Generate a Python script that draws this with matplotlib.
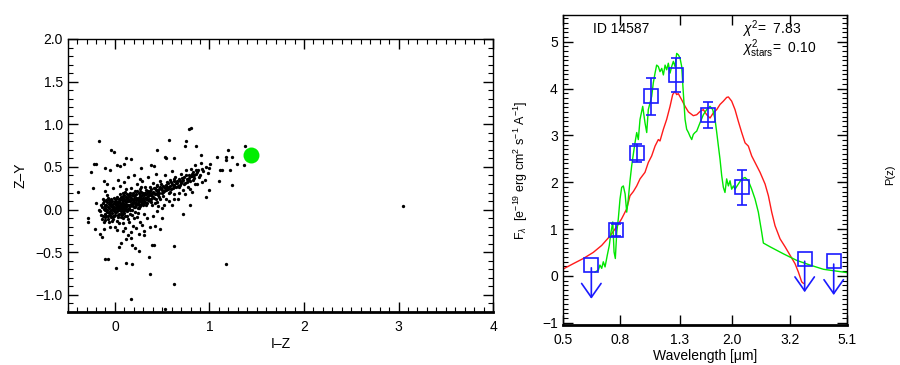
import numpy as np
import matplotlib
matplotlib.use("Agg")
import matplotlib.pyplot as plt
from matplotlib.ticker import MultipleLocator, FixedLocator, NullLocator, FuncFormatter

plt.rcParams['font.family'] = ['Liberation Sans', 'DejaVu Sans']
plt.rcParams['mathtext.fontset'] = 'custom'
plt.rcParams['mathtext.rm'] = 'Liberation Sans'
plt.rcParams['mathtext.it'] = 'Liberation Sans:italic'

# ---- left panel: colour-colour diagram (I-Z, Z-Y) ----
cloud = [
    (-0.16, -0.02), (-0.14, 0.03), (-0.13, -0.08), (-0.12, 0.01), (-0.11, -0.05), (-0.10, 0.06),
    (-0.10, -0.12), (-0.09, 0.00), (-0.08, -0.03), (-0.08, 0.09), (-0.07, -0.07), (-0.06, 0.02),
    (-0.06, -0.15), (-0.05, 0.05), (-0.05, -0.02), (-0.04, 0.12), (-0.04, -0.09), (-0.03, 0.01),
    (-0.03, -0.04), (-0.02, 0.07), (-0.02, -0.11), (-0.01, 0.03), (-0.01, -0.01), (0.00, 0.10),
    (0.00, -0.06), (0.01, 0.02), (0.01, -0.03), (0.02, 0.15), (0.02, 0.05), (0.02, -0.13),
    (0.03, 0.00), (0.03, 0.08), (0.04, -0.05), (0.04, 0.03), (0.05, 0.18), (0.05, -0.01),
    (0.06, 0.06), (0.06, -0.09), (0.07, 0.11), (0.07, 0.01), (0.08, -0.04), (0.08, 0.04),
    (0.09, 0.14), (0.09, -0.16), (0.10, 0.07), (0.10, 0.00), (0.11, 0.21), (0.11, -0.07),
    (0.12, 0.09), (0.12, 0.03), (0.13, -0.02), (0.13, 0.13), (0.14, 0.06), (0.14, -0.11),
    (0.15, 0.17), (0.15, 0.02), (0.16, 0.10), (0.16, -0.05), (0.17, 0.25), (0.17, 0.07),
    (0.18, 0.00), (0.18, 0.13), (0.19, -0.19), (0.19, 0.04), (0.20, 0.16), (0.20, 0.09),
    (0.21, -0.03), (0.21, 0.22), (0.22, 0.11), (0.22, 0.05), (0.23, 0.30), (0.23, -0.09),
    (0.24, 0.14), (0.24, 0.08), (0.25, 0.19), (0.25, 0.02), (0.26, 0.12), (0.27, -0.14),
    (0.27, 0.24), (0.28, 0.16), (0.28, 0.07), (0.29, 0.33), (0.30, 0.10), (0.30, 0.20),
    (0.31, -0.05), (0.32, 0.14), (0.32, 0.26), (0.33, 0.18), (0.34, 0.08), (0.35, 0.22),
    (0.35, 0.38), (0.36, 0.13), (0.37, -0.20), (0.37, 0.27), (0.38, 0.17), (0.39, 0.05),
    (0.40, 0.21), (0.40, 0.31), (0.41, 0.14), (0.42, 0.25), (0.43, 0.42), (0.44, 0.19),
    (0.45, 0.09), (0.45, 0.29), (0.46, 0.22), (0.47, 0.15), (0.48, 0.34), (0.49, 0.25),
    (0.50, 0.02), (0.50, 0.19), (0.51, 0.28), (0.52, 0.22), (0.53, 0.40), (0.54, 0.12),
    (0.55, 0.26), (0.56, 0.31), (0.57, 0.20), (0.58, 0.35), (0.59, 0.24), (0.60, 0.45),
    (0.61, 0.29), (0.62, 0.18), (0.63, 0.33), (0.64, 0.38), (0.65, 0.26), (0.66, 0.31),
    (0.67, 0.13), (0.68, 0.36), (0.69, 0.29), (0.70, 0.42), (0.71, 0.33), (0.72, 0.23),
    (0.73, 0.38), (0.74, 0.31), (0.75, 0.46), (0.76, 0.36), (0.77, 0.27), (0.78, 0.41),
    (0.79, 0.34), (0.80, 0.48), (0.81, 0.39), (0.82, 0.21), (0.83, 0.44), (0.84, 0.37),
    (0.85, 0.52), (0.86, 0.42), (0.87, 0.30), (0.88, 0.47), (0.90, 0.40), (0.91, 0.55),
    (0.93, 0.45), (0.95, 0.35), (0.96, 0.50), (0.98, 0.43),
    (-0.13, 0.08), (-0.12, -0.14), (-0.11, 0.04), (-0.09, -0.08), (-0.07, 0.03), (-0.07, 0.14),
    (-0.06, -0.04), (-0.05, 0.09), (-0.04, -0.01), (-0.03, 0.05), (-0.02, -0.07), (-0.01, 0.08),
    (0.00, 0.01), (0.00, -0.20), (0.01, 0.12), (0.02, -0.02), (0.03, 0.05), (0.04, 0.10),
    (0.04, -0.16), (0.05, 0.04), (0.06, -0.02), (0.07, 0.08), (0.08, 0.16), (0.09, 0.02),
    (0.09, -0.10), (0.10, 0.12), (0.11, 0.05), (0.11, -0.22), (0.12, 0.15), (0.13, 0.06),
    (0.14, 0.01), (0.15, 0.11), (0.15, -0.14), (0.16, 0.04), (0.17, 0.14), (0.17, -0.26),
    (0.18, 0.08), (0.19, 0.19), (0.20, 0.03), (0.20, -0.10), (0.21, 0.12), (0.22, 0.18),
    (0.23, 0.07), (0.24, -0.04), (0.25, 0.14), (0.26, 0.21), (0.26, 0.04), (0.27, 0.10),
    (0.28, 0.27), (0.29, 0.13), (0.30, 0.05), (0.31, 0.17), (0.32, 0.09), (0.33, 0.23),
    (0.34, -0.10), (0.34, 0.15), (0.36, 0.20), (0.37, 0.10), (0.38, 0.24), (0.39, 0.16),
    (0.41, 0.20), (0.42, 0.08), (0.43, 0.23), (0.44, 0.28), (0.46, 0.17), (0.47, 0.24),
    (0.48, 0.12), (0.49, 0.30), (0.51, 0.21), (0.52, 0.26), (0.54, 0.23), (0.55, 0.32),
    (0.57, 0.27), (0.58, 0.21), (0.60, 0.30), (0.62, 0.26), (0.63, 0.36), (0.65, 0.31),
    (0.67, 0.28), (0.69, 0.34), (0.71, 0.37), (0.73, 0.30), (0.75, 0.40), (0.77, 0.35),
    (0.80, 0.39), (0.83, 0.35), (0.86, 0.46), (0.89, 0.38),
    (-0.15, 0.05), (-0.14, -0.11), (-0.12, 0.10), (-0.10, 0.02), (-0.09, 0.11), (-0.08, -0.01),
    (-0.06, 0.07), (-0.05, -0.06), (-0.04, 0.04), (-0.03, 0.10), (-0.02, 0.00), (-0.01, -0.08),
    (0.01, 0.07), (0.02, 0.02), (0.03, -0.09), (0.04, 0.13), (0.05, 0.08), (0.06, 0.02),
    (0.07, -0.06), (0.08, 0.11), (0.10, 0.04), (0.11, 0.10), (0.12, -0.01), (0.13, 0.18),
    (0.14, 0.10), (0.16, 0.15), (0.18, 0.05), (0.19, 0.11), (0.21, 0.08), (0.22, 0.14),
    (0.24, 0.11), (0.25, 0.06), (0.27, 0.17), (0.29, 0.09), (0.31, 0.12), (0.33, 0.05),
    (0.35, 0.16), (0.38, 0.13), (-0.10, 0.22), (-0.02, 0.25), (0.05, 0.28), (0.10, 0.32),
    (0.14, 0.38), (0.03, 0.35), (-0.08, 0.30), (0.20, 0.40), (0.26, 0.36), (0.08, -0.25),
    (0.14, -0.30), (0.22, -0.22), (0.29, -0.18), (0.02, -0.24), (-0.05, -0.20), (0.12, -0.35),
    (0.18, -0.42), (0.25, -0.28), (0.31, -0.25), (0.40, -0.08), (0.44, -0.02), (0.52, 0.05),
    (0.57, 0.10), (0.46, 0.04), (0.62, 0.12), (0.68, 0.20), (0.74, 0.18), (0.79, 0.24),
    (0.85, 0.30), (0.92, 0.32),
    (-0.17, 0.00), (-0.15, -0.06), (-0.13, 0.13), (-0.11, -0.01), (-0.10, -0.09), (-0.09, 0.05),
    (-0.08, 0.17), (-0.07, -0.11), (-0.06, 0.11), (-0.04, 0.07), (-0.03, -0.13), (-0.02, 0.03),
    (-0.01, 0.14), (0.00, -0.03), (0.01, 0.05), (0.02, 0.09), (0.03, -0.06), (0.04, 0.01),
    (0.05, 0.12), (0.06, -0.05), (0.06, 0.15), (0.07, 0.05), (0.08, 0.00), (0.08, 0.20),
    (0.09, 0.08), (0.10, -0.04), (0.10, 0.17), (0.11, 0.01), (0.12, 0.06), (0.12, 0.24),
    (0.13, 0.10), (0.13, -0.08), (0.14, 0.15), (0.15, 0.06), (0.16, 0.20), (0.16, 0.00),
    (0.17, 0.11), (0.18, 0.17), (0.18, -0.06), (0.19, 0.08), (0.20, 0.13), (0.21, 0.03),
    (0.21, 0.17), (0.22, 0.08), (0.23, 0.12), (0.23, 0.22), (0.24, 0.02), (0.25, 0.10),
    (0.26, 0.16), (0.27, 0.06), (0.28, 0.12), (0.28, 0.21), (0.29, 0.17), (0.30, 0.14),
    (0.31, 0.08), (0.32, 0.19), (0.33, 0.12), (0.34, 0.20), (0.35, 0.11), (0.36, 0.17),
    (0.37, 0.22), (0.38, 0.09), (0.39, 0.20), (0.40, 0.15), (0.41, 0.25), (0.42, 0.18),
    (0.43, 0.13), (0.44, 0.23), (0.45, 0.18), (0.47, 0.20), (0.48, 0.27), (0.50, 0.23),
    (0.51, 0.16), (0.53, 0.25), (0.54, 0.29), (0.56, 0.24), (0.58, 0.28), (0.59, 0.32),
    (0.61, 0.25), (0.63, 0.29), (0.66, 0.34), (0.68, 0.27), (0.70, 0.31), (0.72, 0.35),
    (0.76, 0.32), (0.78, 0.37), (0.81, 0.42), (0.84, 0.40), (0.87, 0.44), (0.92, 0.48),
]
outliers = [
    (-0.395, 0.21), (-0.28, -0.10), (-0.28, -0.15), (-0.17, 0.80), (-0.22, 0.53), (-0.25, 0.44),
    (-0.04, 0.70), (-0.01, 0.68), (0.57, 0.82), (0.78, 0.95), (0.80, 0.96), (0.74, 0.74),
    (0.75, 0.80), (0.86, 0.75), (0.44, 0.70), (1.20, 0.70), (1.38, 0.75), (1.37, 0.52),
    (1.24, 0.29), (1.10, 0.34), (3.05, 0.04), (1.18, -0.64), (0.62, -0.87), (0.17, -1.05),
    (0.53, -1.16), (0.37, -0.75), (0.01, -0.68), (-0.10, -0.58), (-0.07, -0.58), (0.12, -0.62),
    (0.18, -0.64), (0.36, -0.56), (0.39, -0.42), (0.41, -0.42), (0.63, -0.43), (0.72, -0.05),
    (0.25, -0.49), (0.21, -0.45), (0.04, -0.44), (0.06, -0.39), (-0.14, -0.32), (-0.16, -0.29),
    (0.17, -0.33), (0.31, -0.30), (0.48, -0.23), (0.42, -0.19), (0.50, -0.10), (0.60, 0.05),
    (0.79, 0.05), (0.96, 0.15), (1.00, 0.23), (1.11, 0.46), (1.13, 0.46), (1.22, 0.46),
    (1.17, 0.58), (1.18, 0.62), (1.24, 0.62), (1.29, 0.54), (1.08, 0.62), (1.01, 0.54),
    (0.99, 0.49), (0.91, 0.64), (0.53, 0.62), (0.54, 0.60), (0.62, 0.61), (0.12, 0.60),
    (0.17, 0.59), (0.10, 0.53), (0.02, 0.52), (0.05, 0.51), (-0.10, 0.49), (-0.05, 0.47),
    (-0.20, 0.53), (0.38, 0.52), (0.41, 0.51), (0.28, 0.49), (-0.20, 0.08), (-0.12, 0.33),
    (-0.23, 0.25), (-0.21, -0.23), (-0.12, -0.23),
]
target_iz = 1.44
target_zy = 0.64

# ---- right panel: SED ----
phot_wl = [0.632, 0.773, 0.916, 1.032, 1.266, 1.644, 2.161]
phot_f = [0.23, 0.98, 2.62, 3.83, 4.29, 3.44, 1.89]
phot_err = [0.0, 0.12, 0.19, 0.40, 0.36, 0.28, 0.37]
det = [False, True, True, True, True, True, True]
lim_wl = [3.616, 4.585]
lim_f = [0.37, 0.31]

red_wl = [0.500, 0.5455, 0.592, 0.642, 0.688, 0.736, 0.782, 0.810, 0.844, 0.867, 0.891, 0.916,
          0.941, 0.980, 1.007, 1.035, 1.064, 1.093, 1.108, 1.139, 1.170, 1.203, 1.229, 1.253,
          1.270, 1.287, 1.323, 1.360, 1.398, 1.455, 1.496, 1.537, 1.579, 1.623, 1.668, 1.714,
          1.762, 1.810, 1.860, 1.911, 1.938, 1.991, 2.046, 2.102, 2.161, 2.221, 2.282, 2.345,
          2.410, 2.511, 2.616, 2.688, 2.762, 2.838, 2.957, 3.081, 3.209, 3.342, 3.435, 3.530, 3.578]
red_f = [0.14, 0.26, 0.37, 0.50, 0.65, 0.85, 1.07, 1.22, 1.43, 1.71, 1.80, 1.92,
         2.07, 2.21, 2.42, 2.56, 2.77, 2.91, 2.88, 3.13, 3.34, 3.62, 3.87, 3.94,
         3.87, 3.89, 3.76, 3.62, 3.50, 3.42, 3.44, 3.51, 3.55, 3.44, 3.37, 3.48,
         3.55, 3.66, 3.73, 3.81, 3.82, 3.73, 3.55, 3.30, 3.06, 2.84, 2.77, 2.56,
         2.42, 2.21, 1.96, 1.71, 1.36, 1.07, 0.79, 0.62, 0.44, 0.26, 0.08, -0.13, -0.16]

green_wl = [0.651, 0.669, 0.678, 0.688, 0.697, 0.707, 0.720, 0.732, 0.742, 0.753, 0.761, 0.769,
            0.778, 0.788, 0.799, 0.810, 0.821, 0.833, 0.844, 0.855, 0.867, 0.879, 0.891, 0.903,
            0.916, 0.928, 0.941, 0.962, 0.980, 0.994, 1.007, 1.021, 1.035, 1.049, 1.064, 1.078,
            1.093, 1.108, 1.124, 1.139, 1.155, 1.170, 1.186, 1.203, 1.219, 1.236, 1.253, 1.270,
            1.287, 1.305, 1.323, 1.341, 1.360, 1.378, 1.398, 1.416, 1.436, 1.455, 1.475, 1.496,
            1.537, 1.579, 1.623, 1.668, 1.705, 1.738, 1.762, 1.786, 1.810, 1.835, 1.860, 1.885,
            1.911, 1.938, 1.964, 1.991, 2.019, 2.046, 2.102, 2.161, 2.221, 2.282, 2.345, 2.410,
            2.476, 2.545, 2.580, 2.725, 3.039, 3.388, 3.779, 4.215, 4.699, 5.100]
green_f = [0.08, 0.12, 0.23, 0.16, 0.30, 0.19, 0.44, 0.65, 0.93, 1.15, 0.51, 0.37,
           0.93, 1.22, 1.64, 1.89, 1.92, 1.75, 1.36, 1.64, 2.03, 2.35, 2.60, 2.84,
           3.06, 2.91, 3.34, 3.62, 3.27, 3.06, 3.55, 3.69, 3.83, 4.12, 4.33, 4.50,
           4.47, 4.36, 4.43, 4.29, 4.50, 4.40, 4.54, 4.33, 4.47, 4.58, 4.47, 4.75,
           4.72, 4.65, 4.47, 3.90, 3.34, 3.13, 3.06, 2.98, 2.91, 3.02, 3.06, 3.09,
           3.27, 3.44, 3.55, 3.62, 3.55, 3.34, 3.06, 2.77, 2.49, 2.14, 1.89, 1.78,
           2.07, 1.92, 2.03, 1.85, 1.92, 1.85, 1.96, 2.07, 2.10, 2.03, 1.85, 1.64,
           1.36, 0.93, 0.70, 0.62, 0.47, 0.33, 0.23, 0.14, 0.10, 0.07]

wl_ticks = [0.5, 0.8, 1.3, 2.0, 3.2, 5.1]
BLUE = '#1a1aff'

fig = plt.figure(figsize=(9, 3.65), dpi=100)

ax1 = fig.add_axes([0.0752, 0.1452, 0.4726, 0.748])
cx, cy = zip(*(cloud + outliers))
ax1.plot(cx, cy, 'o', color='black', ms=2.4, mew=0)
ax1.plot([target_iz], [target_zy], 'o', color='#00ee00', ms=11.5, mew=0)
ax1.set_xlim(-0.5, 4)
ax1.set_ylim(-1.2, 2.0)
ax1.xaxis.set_major_locator(MultipleLocator(1))
ax1.xaxis.set_minor_locator(MultipleLocator(0.1))
ax1.yaxis.set_major_locator(MultipleLocator(0.5))
ax1.yaxis.set_minor_locator(MultipleLocator(0.1))
ax1.yaxis.set_major_formatter(FuncFormatter(lambda v, p: ('%.1f' % v).replace('-', '\u2212')))
ax1.set_xlabel('I\u2013Z', fontsize=10, labelpad=2)
ax1.set_ylabel('Z\u2013Y', fontsize=10, labelpad=6)


def upper_limit(ax, w, f):
    ax.annotate('', xy=(w, f - 0.78), xytext=(w, f),
                arrowprops=dict(arrowstyle='->,head_length=1.0,head_width=0.7', color=BLUE, lw=1.2))
    ax.plot([w], [f], 's', mfc='none', mec=BLUE, ms=10, mew=1.2)


ax2 = fig.add_axes([0.6252, 0.1096, 0.3156, 0.8493])
ax2.plot(red_wl, red_f, color='#ff1a1a', lw=1.0)
ax2.plot(green_wl, green_f, color='#00e600', lw=1.0)
for w, f, e, d in zip(phot_wl, phot_f, phot_err, det):
    if d:
        ax2.errorbar([w], [f], yerr=[e], fmt='none', ecolor=BLUE, elinewidth=1.2, capsize=3.5, capthick=1.2)
        ax2.plot([w], [f], 's', mfc='none', mec=BLUE, ms=10, mew=1.2)
    else:
        upper_limit(ax2, w, f)
for w, f in zip(lim_wl, lim_f):
    upper_limit(ax2, w, f)
ax2.set_xscale('log')
ax2.set_xlim(0.5, 5.1)
ax2.set_ylim(-1.05, 5.57)
ax2.xaxis.set_major_locator(FixedLocator(wl_ticks))
ax2.xaxis.set_minor_locator(NullLocator())
ax2.set_xticklabels(['%.1f' % t for t in wl_ticks])
ax2.yaxis.set_major_locator(MultipleLocator(1))
ax2.yaxis.set_minor_locator(MultipleLocator(0.1))
ax2.set_xlabel('Wavelength [\u03bcm]', fontsize=10, labelpad=1)
ax2.set_ylabel(r'F$_\lambda$  [e$^{-19}$ erg cm$^{2}$ s$^{-1}$ A$^{-1}$]', fontsize=9, labelpad=9)
ax2.text(0.107, 0.955, 'ID 14587', transform=ax2.transAxes, fontsize=10, va='center')
ax2.text(0.63, 0.955, r'$\chi^{2}$=  7.83', transform=ax2.transAxes, fontsize=10, va='center')
ax2.text(0.63, 0.89, r'$\chi^{2}_{\rm stars}$=  0.10', transform=ax2.transAxes, fontsize=10, va='center')

for ax in (ax1, ax2):
    ax.tick_params(which='both', direction='in', top=True, right=True, labelsize=10, colors='black')
    ax.tick_params(which='major', length=7, width=1)
    ax.tick_params(which='minor', length=3.5, width=0.8)
    ax.tick_params(axis='x', pad=6)
    for s in ('left', 'right', 'top'):
        ax.spines[s].set_linewidth(1.0)
    ax.spines['bottom'].set_linewidth(2.0)

fig.text(0.984, 0.52, 'P(z)', rotation=90, fontsize=8, va='center', ha='left')

fig.savefig('out.png', dpi=100)
